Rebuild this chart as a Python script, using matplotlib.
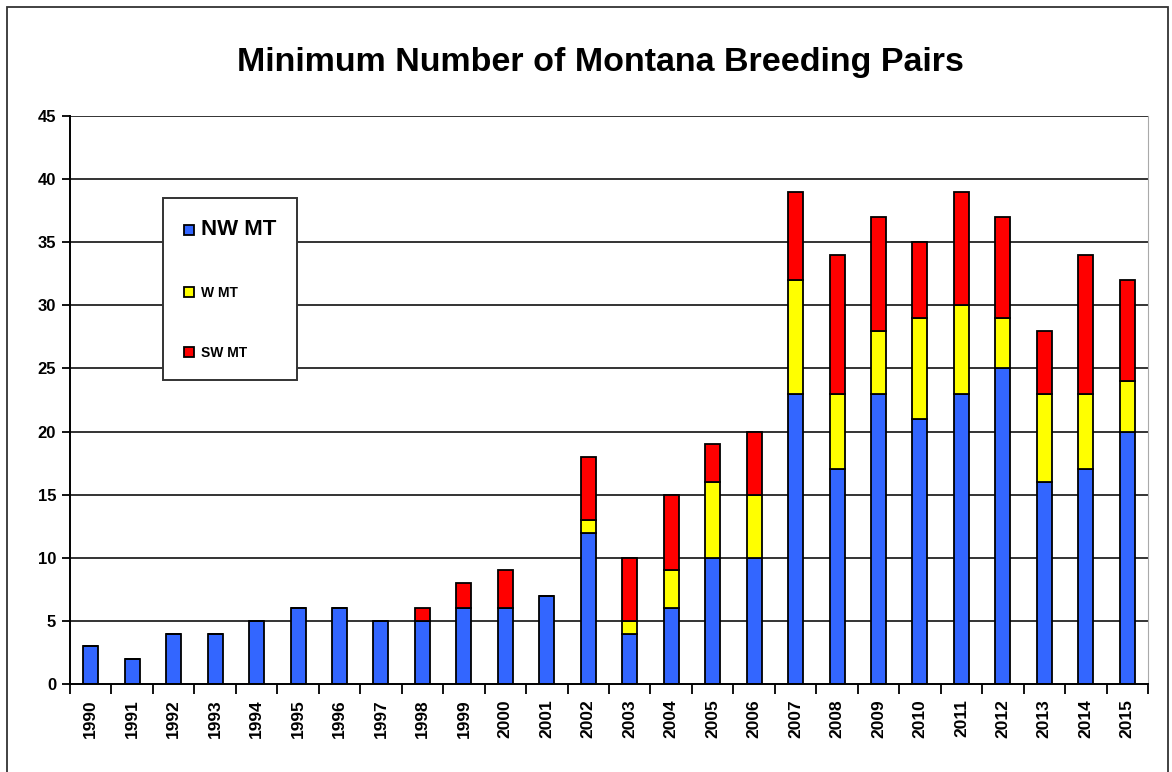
import numpy as np
import matplotlib.pyplot as plt
from matplotlib.patches import Rectangle

plt.rcParams['font.family'] = ['Liberation Sans', 'DejaVu Sans']

# Breeding pairs per region
years = [str(y) for y in range(1990, 2016)]
nw_mt = [3, 2, 4, 4, 5, 6, 6, 5, 5, 6, 6, 7, 12, 4, 6, 10, 10, 23, 17, 23, 21, 23, 25, 16, 17, 20]
w_mt = [0, 0, 0, 0, 0, 0, 0, 0, 0, 0, 0, 0, 1, 1, 3, 6, 5, 9, 6, 5, 8, 7, 4, 7, 6, 4]
sw_mt = [0, 0, 0, 0, 0, 0, 0, 0, 1, 2, 3, 0, 5, 5, 6, 3, 5, 7, 11, 9, 6, 9, 8, 5, 11, 8]
yticks = list(range(0, 50, 5))

fig = plt.figure(figsize=(11.72, 7.72), dpi=100)
ax = fig.add_axes([70 / 1172, 88 / 772, 1078 / 1172, 568 / 772])

x = np.arange(len(years))
nw = np.array(nw_mt)
w = np.array(w_mt)
sw = np.array(sw_mt)
bw = 0.36

for yv in yticks[1:]:
    ax.axhline(yv, color='#333333', lw=1.4, zorder=0)

ax.bar(x, nw, bw, color='#3366FF', edgecolor='black', lw=1.3, label='NW MT', zorder=2)
ax.bar(x, w, bw, bottom=nw, color='#FFFF00', edgecolor='black', lw=1.3, label='W MT', zorder=2)
ax.bar(x, sw, bw, bottom=nw + w, color='#FF0000', edgecolor='black', lw=1.3, label='SW MT', zorder=2)

ax.set_xlim(-0.5, len(years) - 0.5)
ax.set_ylim(0, 45)
ax.set_yticks(yticks)
ax.set_yticklabels([str(v) for v in yticks], fontweight='bold', fontsize=12)
ax.set_xticks(x)
ax.set_xticklabels(years, rotation=90, fontweight='bold', fontsize=12.5)
ax.set_xticks(np.arange(-0.5, len(years), 1), minor=True)
ax.tick_params(axis='x', which='major', length=0, pad=11)
ax.tick_params(axis='x', which='minor', length=7, width=1.3)
ax.tick_params(axis='y', length=6, width=1.3, pad=4)

ax.spines['top'].set_visible(False)
ax.spines['right'].set_color('#aaaaaa')
ax.spines['left'].set_linewidth(1.4)
ax.spines['bottom'].set_linewidth(1.4)

leg = ax.legend(loc='upper left', bbox_to_anchor=(0.0863, 0.8556), fancybox=False,
                edgecolor='#333333', framealpha=1, prop={'weight': 'bold', 'size': 10},
                labelspacing=3.3, handlelength=0.75, handleheight=0.75, handletextpad=0.5,
                borderpad=1.5, borderaxespad=0)
leg.get_frame().set_linewidth(1.4)
leg.get_texts()[0].set_fontsize(16)

fig.text(600 / 1172, 1 - 62 / 772, 'Minimum Number of Montana Breeding Pairs',
         fontsize=24.5, fontweight='bold', ha='center', va='center')

fig.patches.append(Rectangle((7 / 1172, -0.05), 1161 / 1172, 1.05 - 7 / 772,
                             transform=fig.transFigure, fill=False, edgecolor='#333333', lw=1.3))

fig.savefig('out.png', dpi=100)
